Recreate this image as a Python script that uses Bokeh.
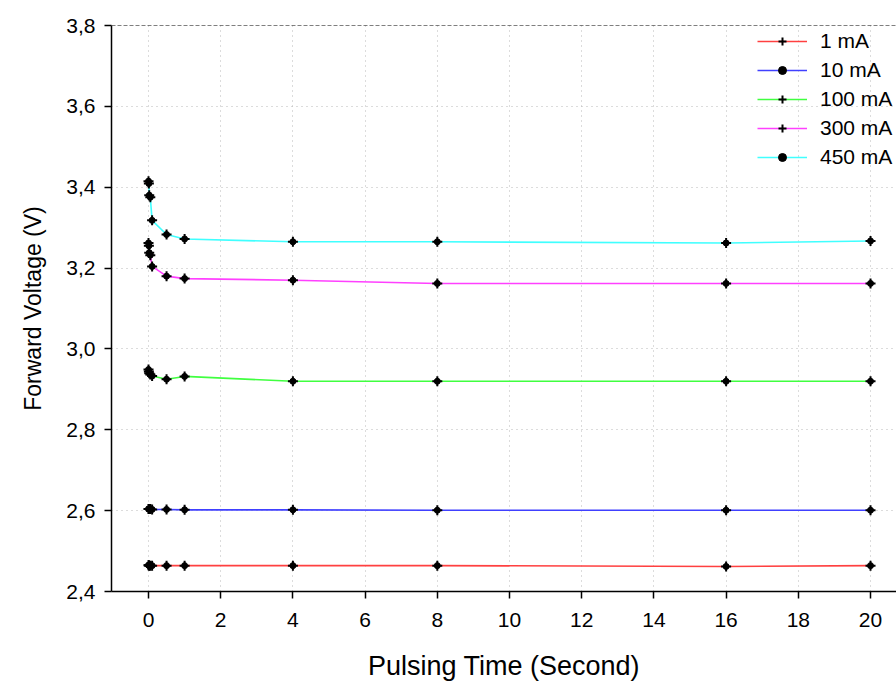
from bokeh.plotting import figure
from bokeh.models import (ColumnDataSource, Range1d, FixedTicker, CustomJSTickFormatter,
                          Span, Legend, LegendItem, Title)
from bokeh.embed import file_html
from bokeh.resources import INLINE

# ---- data ----
time_s = [0, 0.01, 0.02, 0.05, 0.1, 0.5, 1, 4, 8, 16, 20]
v_1mA = [2.465, 2.465, 2.464, 2.464, 2.464, 2.464, 2.464, 2.464, 2.464, 2.462, 2.464]
v_10mA = [2.604, 2.604, 2.604, 2.604, 2.603, 2.603, 2.602, 2.602, 2.601, 2.601, 2.601]
v_100mA = [2.949, 2.944, 2.940, 2.937, 2.933, 2.925, 2.932, 2.920, 2.920, 2.920, 2.920]
v_300mA = [3.262, 3.255, 3.238, 3.232, 3.204, 3.180, 3.174, 3.170, 3.162, 3.162, 3.162]
v_450mA = [3.415, 3.409, 3.380, 3.375, 3.318, 3.283, 3.272, 3.265, 3.265, 3.262, 3.267]

series_names = ["1 mA", "10 mA", "100 mA", "300 mA", "450 mA"]
series_values = [v_1mA, v_10mA, v_100mA, v_300mA, v_450mA]
series_colors = ["#ff4040", "#4040ff", "#40ff40", "#ff40ff", "#40ffff"]
legend_markers = ["cross", "circle", "cross", "cross", "circle"]

x_ticks = [0, 2, 4, 6, 8, 10, 12, 14, 16, 18, 20]
y_ticks = [2.4, 2.6, 2.8, 3.0, 3.2, 3.4, 3.6, 3.8]
x_title = "Pulsing Time (Second)"
y_title = "Forward Voltage (V)"

FONT = "Liberation Sans"

p = figure(width=896, height=687, output_backend="svg", toolbar_location=None,
           x_range=Range1d(-1.025, 20.72), y_range=Range1d(2.4, 3.8),
           min_border_left=111, min_border_right=0, min_border_top=25, min_border_bottom=96)
p.outline_line_color = None
p.background_fill_color = "white"
p.border_fill_color = "white"

# axes
for ax in (p.xaxis[0], p.yaxis[0]):
    ax.axis_line_color = "black"
    ax.axis_line_width = 1.5
    ax.major_tick_line_color = "black"
    ax.major_tick_line_width = 1.5
    ax.major_tick_in = 0
    ax.major_tick_out = 7
    ax.minor_tick_line_color = None
    ax.major_label_text_font = FONT
    ax.major_label_text_font_size = "21px"
    ax.major_label_text_color = "black"
    ax.axis_label_text_font = FONT
    ax.axis_label_text_font_style = "normal"
    ax.axis_label_text_color = "black"

p.xaxis.axis_label_text_font_size = "27px"
p.xaxis.ticker = FixedTicker(ticks=x_ticks)
p.yaxis.ticker = FixedTicker(ticks=y_ticks)
p.yaxis.formatter = CustomJSTickFormatter(code="return tick.toFixed(1).replace('.', ',');")
p.xaxis.axis_label = x_title
p.xaxis.major_label_standoff = 14
p.xaxis.axis_label_standoff = 21
p.yaxis.major_label_standoff = 9

# y axis title as a left-side title, shifted a little downwards like the reference
p.add_layout(Title(text=y_title, align="center", offset=-55, standoff=35,
                   text_font=FONT, text_font_size="23px", text_font_style="normal",
                   text_color="black"), "left")

# grid
for g in (p.xgrid[0], p.ygrid[0]):
    g.grid_line_color = "#b8b8b8"
    g.grid_line_dash = "1 4"
    g.grid_line_width = 1

# dashed top line at 3.8
p.add_layout(Span(location=3.8, dimension="width", line_color="black",
                  line_dash="4 2", line_width=1.2))

items = []
for name, vals, col, mk in zip(series_names, series_values, series_colors, legend_markers):
    src = ColumnDataSource(dict(x=time_s, y=vals))
    r_line = p.line("x", "y", source=src, line_color=col, line_width=1.6)
    r_circ = p.scatter("x", "y", source=src, marker="circle", size=6,
                       fill_color="black", line_color="black")
    r_cross = p.scatter("x", "y", source=src, marker="cross", size=10,
                        line_color="black", line_width=2)
    leg_r = [r_line, r_cross] if mk == "cross" else [r_line, r_circ]
    items.append(LegendItem(label=name, renderers=leg_r))

legend = Legend(items=items, location=(646, 422), padding=0, margin=0,
                border_line_color=None, background_fill_alpha=0,
                glyph_width=50, glyph_height=20, label_height=20,
                spacing=5, label_standoff=13,
                label_text_font=FONT, label_text_font_size="21px",
                label_text_color="black")
p.add_layout(legend)

open("out.html", "w").write(file_html(p, INLINE))
